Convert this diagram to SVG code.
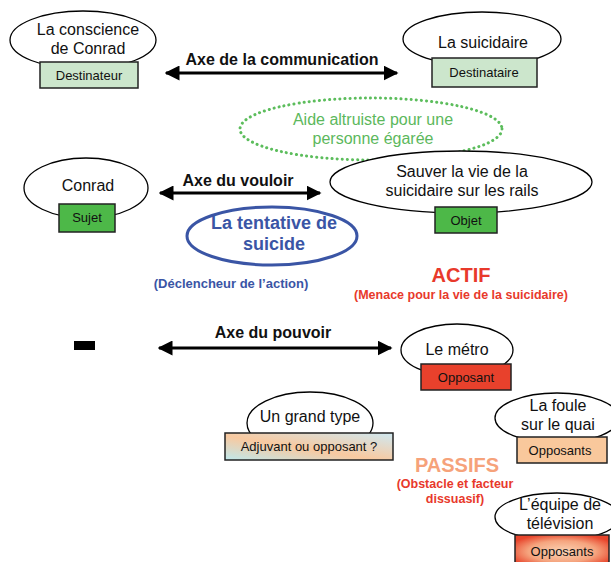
<svg xmlns="http://www.w3.org/2000/svg" width="611" height="562" viewBox="0 0 611 562">
<defs>
<style>
.el{fill:#fff;stroke:#000;stroke-width:1.3}
.nt{font-family:"Liberation Sans",Arial,sans-serif;font-size:16px;fill:#111;text-anchor:middle}
.bx{stroke:#222;stroke-width:1.5}
.bt{font-family:"Liberation Sans",Arial,sans-serif;font-size:13px;fill:#111;text-anchor:middle}
.ax{font-family:"Liberation Sans",Arial,sans-serif;font-size:16px;font-weight:bold;fill:#111;text-anchor:middle}
.arr{stroke:#000;stroke-width:3;fill:none;marker-start:url(#ah);marker-end:url(#ah)}
.bold{font-family:"Liberation Sans",Arial,sans-serif;font-weight:bold;text-anchor:middle}
</style>
<marker id="ah" viewBox="0 0 10 10" refX="9" refY="5" markerWidth="5" markerHeight="5" orient="auto-start-reverse" markerUnits="strokeWidth">
<path d="M0,0 L10,5 L0,10 Z" fill="#000"/>
</marker>
<linearGradient id="gAdj" x1="0" y1="1" x2="1" y2="0">
<stop offset="0" stop-color="#bfe8ec"/>
<stop offset="0.45" stop-color="#f8c9a0"/>
<stop offset="1" stop-color="#cfe9f2"/>
</linearGradient>
<radialGradient id="gTv" cx="0.5" cy="0.55" r="0.6">
<stop offset="0" stop-color="#fad3b4"/>
<stop offset="0.6" stop-color="#f5a47e"/>
<stop offset="1" stop-color="#e8452c"/>
</radialGradient>
</defs>
<rect width="611" height="562" fill="#fff"/>

<g id="connectors">
<line class="arr" x1="166" y1="73" x2="397" y2="73"/>
<line class="arr" x1="160" y1="193" x2="320" y2="193"/>
<line class="arr" x1="159" y1="348" x2="391" y2="348"/>
</g>

<g id="axis-labels">
<text class="ax" x="282" y="65">Axe de la communication</text>
<text class="ax" x="238" y="186">Axe du vouloir</text>
<text class="ax" x="273" y="338">Axe du pouvoir</text>
</g>

<g id="destinateur">
<ellipse class="el" cx="83" cy="40" rx="73" ry="29"/>
<text class="nt" x="88" y="35">La conscience</text>
<text class="nt" x="88" y="54">de Conrad</text>
<rect class="bx" x="40" y="62" width="98" height="26" fill="#cce6cc"/>
<text class="bt" x="89" y="80">Destinateur</text>
</g>

<g id="destinataire">
<ellipse class="el" cx="482" cy="39" rx="79" ry="27"/>
<text class="nt" x="483" y="48">La suicidaire</text>
<rect class="bx" x="432" y="58" width="105" height="29" fill="#cce6cc"/>
<text class="bt" x="484" y="77">Destinataire</text>
</g>

<g id="aide">
<ellipse cx="371" cy="129" rx="131" ry="31" fill="none" stroke="#5cbd5c" stroke-width="3" stroke-dasharray="0.1 5" stroke-linecap="round"/>
<text class="nt" x="373" y="125" style="fill:#5cb85c">Aide altruiste pour une</text>
<text class="nt" x="373" y="144" style="fill:#5cb85c">personne égarée</text>
</g>

<g id="sujet">
<ellipse class="el" cx="86" cy="188" rx="62" ry="30"/>
<text class="nt" x="88" y="191">Conrad</text>
<rect class="bx" x="59" y="204" width="56" height="28" fill="#4db848"/>
<text class="bt" x="87" y="222">Sujet</text>
</g>

<g id="objet">
<ellipse class="el" cx="461" cy="182" rx="131" ry="31"/>
<text class="nt" x="462" y="177">Sauver la vie de la</text>
<text class="nt" x="462" y="196">suicidaire sur les rails</text>
<rect class="bx" x="435" y="207" width="62" height="26" fill="#4db848"/>
<text class="bt" x="466" y="225">Objet</text>
</g>

<g id="tentative">
<ellipse cx="272" cy="236" rx="85" ry="29" fill="#fff" stroke="#3a55a5" stroke-width="3"/>
<text class="bold" x="274" y="229" font-size="18" fill="#3a55a5">La tentative de</text>
<text class="bold" x="274" y="250" font-size="18" fill="#3a55a5">suicide</text>
<text class="bold" x="231" y="288" font-size="13" fill="#3a55a5">(Déclencheur de l’action)</text>
</g>

<g id="actif">
<text class="bold" x="461" y="282" font-size="20" fill="#e8392b">ACTIF</text>
<text class="bold" x="461" y="299" font-size="12.5" fill="#e8392b">(Menace pour la vie de la suicidaire)</text>
</g>

<g id="minus">
<rect x="74" y="341" width="21" height="9" fill="#000"/>
</g>

<g id="metro">
<ellipse class="el" cx="457" cy="350" rx="56" ry="26"/>
<text class="nt" x="457" y="355">Le métro</text>
<rect class="bx" x="421" y="364" width="90" height="26" fill="#e8412c"/>
<text class="bt" x="466" y="382">Opposant</text>
</g>

<g id="grandtype">
<ellipse class="el" cx="310" cy="423" rx="63" ry="31"/>
<text class="nt" x="310" y="422">Un grand type</text>
<rect class="bx" x="225" y="433" width="168" height="27" fill="url(#gAdj)"/>
<text class="bt" x="309" y="451">Adjuvant ou opposant ?</text>
</g>

<g id="foule">
<ellipse class="el" cx="557" cy="418" rx="62" ry="25"/>
<text class="nt" x="558" y="411">La foule</text>
<text class="nt" x="558" y="430">sur le quai</text>
<rect class="bx" x="517" y="437" width="90" height="26" fill="#f9c89c"/>
<text class="bt" x="560" y="455">Opposants</text>
</g>

<g id="passifs">
<text class="bold" x="457" y="472" font-size="20" fill="#f6a27a">PASSIFS</text>
<text class="bold" x="455" y="488" font-size="12.5" fill="#e8392b">(Obstacle et facteur</text>
<text class="bold" x="455" y="503" font-size="12.5" fill="#e8392b">dissuasif)</text>
</g>

<g id="equipe">
<ellipse class="el" cx="557" cy="517" rx="62" ry="24"/>
<text class="nt" x="560" y="510">L’équipe de</text>
<text class="nt" x="560" y="529">télévision</text>
<rect class="bx" x="515" y="535" width="94" height="30" fill="url(#gTv)"/>
<text class="bt" x="562" y="556">Opposants</text>
</g>
</svg>
